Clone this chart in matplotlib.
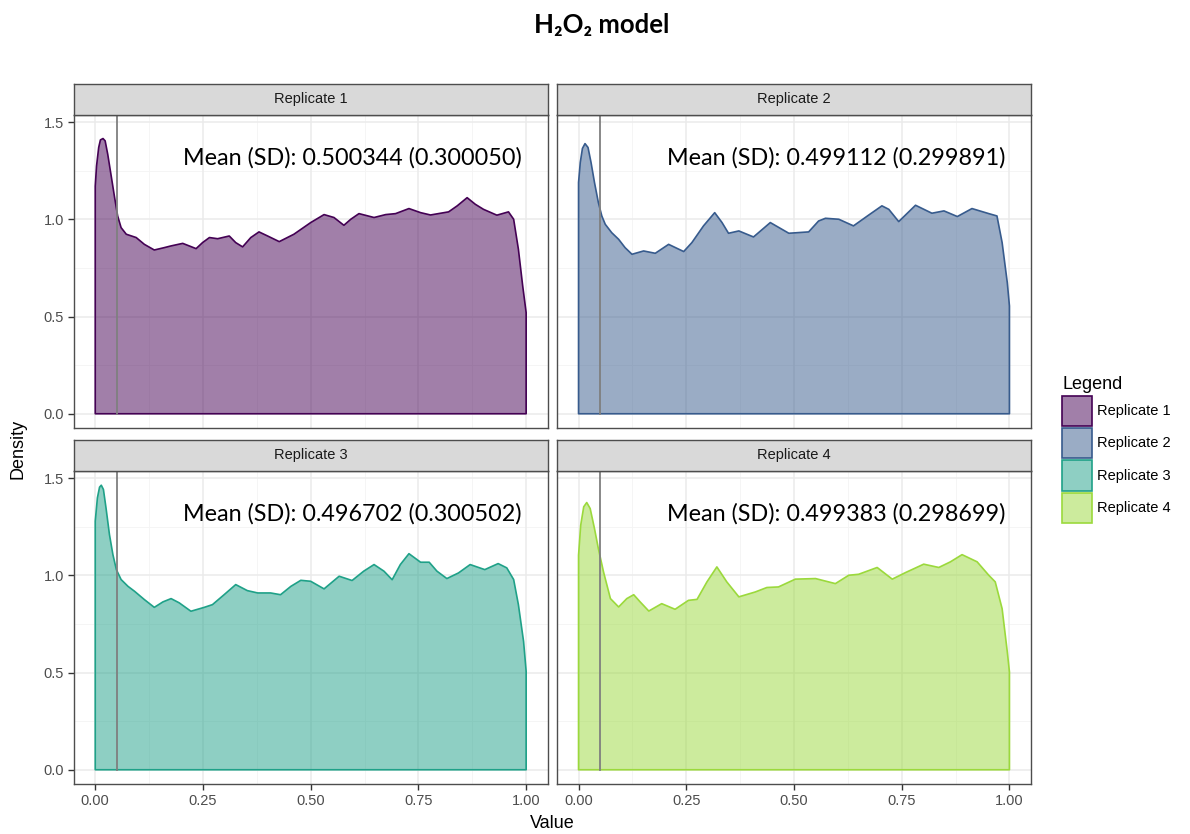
import numpy as np
import matplotlib
matplotlib.use("Agg")
import matplotlib.pyplot as plt
from matplotlib.patches import Patch

plt.rcParams["font.family"] = ["Liberation Sans", "DejaVu Sans"]

# ---------------- data ----------------
replicates = ["Replicate 1", "Replicate 2", "Replicate 3", "Replicate 4"]
means = ["0.500344", "0.499112", "0.496702", "0.499383"]
sds = ["0.300050", "0.299891", "0.300502", "0.298699"]
threshold = 0.05

x1 = [0.0, 0.003, 0.008, 0.012, 0.018, 0.023, 0.029, 0.037, 0.045, 0.052, 0.060, 0.072,
      0.095, 0.114, 0.137, 0.160, 0.176, 0.203, 0.218, 0.234, 0.249, 0.265, 0.284, 0.311,
      0.326, 0.342, 0.361, 0.380, 0.400, 0.427, 0.461, 0.500, 0.531, 0.554, 0.577, 0.593,
      0.612, 0.647, 0.674, 0.697, 0.728, 0.755, 0.778, 0.820, 0.840, 0.863, 0.882, 0.901,
      0.932, 0.959, 0.971, 0.982, 0.992, 1.0]
y1 = [1.17, 1.274, 1.369, 1.408, 1.415, 1.403, 1.334, 1.223, 1.111, 1.017, 0.957, 0.923,
      0.906, 0.871, 0.842, 0.854, 0.863, 0.876, 0.863, 0.849, 0.88, 0.906, 0.9, 0.914,
      0.88, 0.858, 0.906, 0.935, 0.914, 0.885, 0.923, 0.983, 1.024, 1.009, 0.969, 1.0,
      1.029, 1.009, 1.024, 1.029, 1.055, 1.034, 1.022, 1.038, 1.069, 1.111, 1.077, 1.051,
      1.021, 1.038, 1.0, 0.846, 0.657, 0.52]

x2 = [0.0, 0.004, 0.009, 0.015, 0.022, 0.029, 0.037, 0.046, 0.054, 0.062, 0.077, 0.093,
      0.108, 0.124, 0.151, 0.178, 0.209, 0.244, 0.263, 0.290, 0.316, 0.333, 0.348, 0.372,
      0.406, 0.445, 0.488, 0.534, 0.557, 0.573, 0.604, 0.638, 0.673, 0.704, 0.720, 0.743,
      0.782, 0.820, 0.848, 0.879, 0.913, 0.952, 0.971, 0.983, 0.995, 1.0]
y2 = [1.189, 1.292, 1.364, 1.389, 1.369, 1.292, 1.189, 1.086, 1.017, 0.974, 0.931, 0.897,
      0.854, 0.82, 0.837, 0.825, 0.871, 0.834, 0.88, 0.966, 1.034, 0.983, 0.928, 0.94,
      0.909, 0.983, 0.928, 0.935, 0.991, 1.005, 1.0, 0.966, 1.021, 1.069, 1.051, 0.988,
      1.072, 1.031, 1.043, 1.014, 1.055, 1.029, 1.017, 0.88, 0.674, 0.554]

x3 = [0.0, 0.005, 0.010, 0.014, 0.019, 0.025, 0.033, 0.041, 0.049, 0.060, 0.076, 0.091,
      0.114, 0.137, 0.157, 0.176, 0.195, 0.222, 0.253, 0.272, 0.299, 0.326, 0.353, 0.377,
      0.407, 0.430, 0.454, 0.477, 0.500, 0.531, 0.566, 0.596, 0.623, 0.647, 0.670, 0.689,
      0.708, 0.728, 0.755, 0.775, 0.793, 0.816, 0.843, 0.870, 0.904, 0.935, 0.955, 0.971,
      0.982, 0.994, 1.0]
y3 = [1.278, 1.398, 1.453, 1.463, 1.441, 1.346, 1.209, 1.106, 1.029, 0.978, 0.943, 0.918,
      0.875, 0.835, 0.863, 0.88, 0.858, 0.815, 0.835, 0.849, 0.9, 0.952, 0.921, 0.909,
      0.909, 0.9, 0.943, 0.974, 0.969, 0.93, 0.995, 0.973, 1.021, 1.055, 1.021, 0.977,
      1.055, 1.111, 1.067, 1.067, 1.021, 0.983, 1.012, 1.055, 1.029, 1.06, 1.038, 0.978,
      0.849, 0.66, 0.506]

x4 = [0.0, 0.005, 0.012, 0.019, 0.027, 0.037, 0.046, 0.058, 0.074, 0.093, 0.112, 0.128,
      0.143, 0.163, 0.193, 0.224, 0.255, 0.275, 0.298, 0.321, 0.344, 0.372, 0.410, 0.437,
      0.464, 0.503, 0.550, 0.596, 0.627, 0.650, 0.693, 0.728, 0.759, 0.801, 0.836, 0.863,
      0.890, 0.925, 0.952, 0.967, 0.983, 0.995, 1.0]
y4 = [1.103, 1.257, 1.352, 1.374, 1.343, 1.24, 1.137, 1.017, 0.88, 0.837, 0.88, 0.9,
      0.863, 0.816, 0.854, 0.825, 0.871, 0.876, 0.966, 1.043, 0.966, 0.889, 0.914, 0.937,
      0.94, 0.98, 0.983, 0.957, 1.0, 1.005, 1.04, 0.98, 1.014, 1.057, 1.04, 1.069,
      1.106, 1.069, 1.0, 0.966, 0.828, 0.606, 0.503]

xs = [x1, x2, x3, x4]
ys = [y1, y2, y3, y4]

x_ticks = [0.0, 0.25, 0.5, 0.75, 1.0]
x_ticklabels = ["0.00", "0.25", "0.50", "0.75", "1.00"]
y_ticks = [0.0, 0.5, 1.0, 1.5]
y_ticklabels = ["0.0", "0.5", "1.0", "1.5"]

# ---------------- style ----------------
colors = plt.cm.viridis(np.linspace(0, 0.85, 4))
W, H = 1190, 834
fig = plt.figure(figsize=(W / 100, H / 100), dpi=100)

panel_w = 474
panel_h = 313
strip_h = 31
lefts = [73.7, 557]
tops = [115, 471]  # top pixel of each panel row

xlim = (-0.05, 1.05)
ylim = (-0.0732, 1.536)
border_col = "#4d4d4d"
grid_major = "#ebebeb"
grid_minor = "#f4f4f4"

for i in range(4):
    r, c = divmod(i, 2)
    left = lefts[c]
    top = tops[r]
    ax = fig.add_axes([left / W, (H - top - panel_h) / H, panel_w / W, panel_h / H])
    ax.set_xlim(*xlim)
    ax.set_ylim(*ylim)
    for v in [0.125, 0.375, 0.625, 0.875]:
        ax.axvline(v, color=grid_minor, lw=0.6, zorder=0)
    for v in [0.25, 0.75, 1.25]:
        ax.axhline(v, color=grid_minor, lw=0.6, zorder=0)
    for v in x_ticks:
        ax.axvline(v, color=grid_major, lw=1.1, zorder=0)
    for v in y_ticks:
        ax.axhline(v, color=grid_major, lw=1.1, zorder=0)

    px = [0.0] + list(xs[i]) + [1.0]
    py = [0.0] + list(ys[i]) + [0.0]
    ax.fill(px, py, facecolor=colors[i], alpha=0.5, edgecolor="none", zorder=2)
    ax.fill(px, py, facecolor="none", edgecolor=colors[i], lw=1.2, zorder=3,
            joinstyle="round")
    ax.plot([threshold, threshold], [0, ylim[1]], color="#7f7f7f", lw=1.3, zorder=4)

    ax.text(0.99, 1.315, f"Mean (SD): {means[i]} ({sds[i]})", ha="right", va="center",
            fontsize=16.8, family=["Lato", "DejaVu Sans"], color="black", zorder=5)

    ax.set_xticks(x_ticks)
    ax.set_yticks(y_ticks)
    ax.set_xticklabels(x_ticklabels if r == 1 else [])
    ax.set_yticklabels(y_ticklabels if c == 0 else [])
    ax.tick_params(axis="both", length=4, width=1.0, color="#333333",
                   labelsize=10.5, labelcolor="#4d4d4d", pad=3)
    if r == 0:
        ax.tick_params(axis="x", length=0)
    if c == 1:
        ax.tick_params(axis="y", length=0)
    for s in ax.spines.values():
        s.set_color(border_col)
        s.set_linewidth(1.0)
        s.set_zorder(6)

    sax = fig.add_axes([left / W, (H - top) / H, panel_w / W, strip_h / H])
    sax.set_xlim(0, 1)
    sax.set_ylim(0, 1)
    sax.set_facecolor("#d9d9d9")
    sax.set_xticks([])
    sax.set_yticks([])
    for s in sax.spines.values():
        s.set_color(border_col)
        s.set_linewidth(1.0)
    sax.text(0.5, 0.5, replicates[i], ha="center", va="center", fontsize=10.5,
             color="#1a1a1a")

fig.text(552 / W, 1 - 824 / H, "Value", ha="center", va="center", fontsize=13,
         color="black")
fig.text(18 / W, 1 - 449 / H, "Density", ha="center", va="center", rotation=90,
         fontsize=13, color="black")

fig.text(602 / W, 1 - 25 / H, "H\u2082O\u2082 model", ha="center", va="center",
         fontsize=18.5, fontweight="bold", family=["Lato", "DejaVu Sans"])

handles = [Patch(facecolor=(*colors[i][:3], 0.5), edgecolor=colors[i], lw=1.2,
                 label=replicates[i]) for i in range(4)]
leg = fig.legend(handles=handles, title="Legend", loc="upper left",
                 bbox_to_anchor=(1052 / W, 1 - 366 / H), frameon=False,
                 fontsize=10.5, title_fontsize=13, handlelength=2.06,
                 handleheight=2.8, handletextpad=0.35, labelspacing=0.16,
                 borderpad=0.2, alignment="left")

fig.savefig("out.png", dpi=100)
